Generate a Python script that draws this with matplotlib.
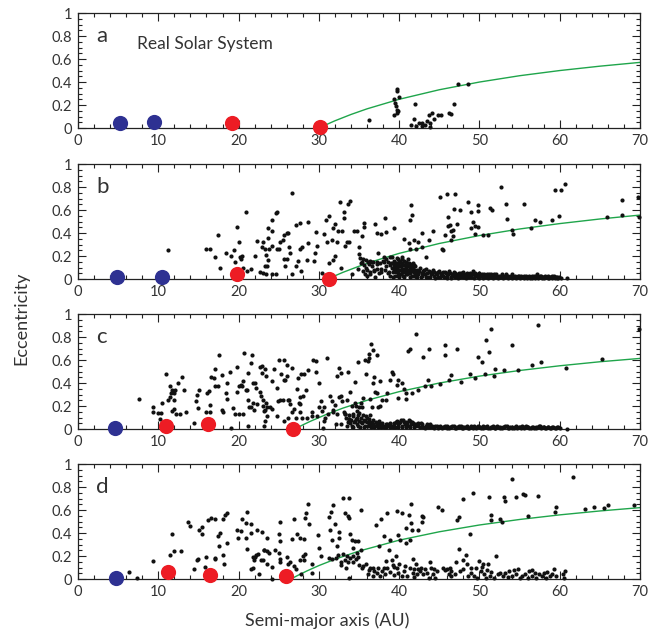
import numpy as np
import matplotlib
matplotlib.use("Agg")
import matplotlib.pyplot as plt
from matplotlib.ticker import MultipleLocator, FuncFormatter

plt.rcParams['font.family'] = ['Lato', 'DejaVu Sans']

# ---- data ----
panel_labels = ['a', 'b', 'c', 'd']

# planets (semi-major axis AU, eccentricity)
blue_a = [[5.2, 9.5], [4.9, 10.4], [4.6], [4.7]]
blue_e = [[0.045, 0.053], [0.015, 0.02], [0.006], [0.006]]
red_a = [[19.2, 30.1], [19.8, 31.3], [11.0, 16.2, 26.8], [11.2, 16.4, 25.9]]
red_e = [[0.044, 0.01], [0.047, 0.0], [0.027, 0.04, 0.0], [0.062, 0.035, 0.024]]

# green perihelion-limit curves
curve_a = [
    [30, 31, 32, 34, 36, 40, 45, 50, 55, 60, 65, 70],
    [31.1, 32, 33, 35, 37, 40, 45, 50, 55, 60, 65, 70],
    [27, 28, 29, 31, 33, 36, 40, 45, 50, 55, 60, 65, 70],
    [26.5, 27.5, 28.5, 30, 32, 35, 40, 45, 50, 55, 60, 65, 70],
]
curve_e = [
    [0, 0.032, 0.063, 0.118, 0.167, 0.25, 0.333, 0.40, 0.455, 0.50, 0.538, 0.571],
    [0, 0.028, 0.058, 0.111, 0.159, 0.223, 0.309, 0.378, 0.435, 0.482, 0.522, 0.556],
    [0, 0.036, 0.069, 0.129, 0.182, 0.25, 0.325, 0.40, 0.46, 0.509, 0.55, 0.585, 0.614],
    [0, 0.036, 0.07, 0.117, 0.172, 0.243, 0.338, 0.411, 0.47, 0.518, 0.558, 0.592, 0.621],
]

kbo_a_pts = [
    (36.2, 0.074), (39.7, 0.34), (39.75, 0.32), (40.0, 0.27), (39.3, 0.25), (39.5, 0.22),
    (39.6, 0.19), (39.7, 0.16), (39.8, 0.15), (39.3, 0.11), (39.7, 0.13), (42.0, 0.21),
    (41.9, 0.08), (41.5, 0.03), (42.1, 0.015), (42.5, 0.04), (42.9, 0.015), (43.2, 0.03),
    (43.5, 0.06), (43.8, 0.01), (43.7, 0.11), (44.1, 0.13), (44.3, 0.08), (44.8, 0.11),
    (45.2, 0.11), (46.2, 0.13), (46.5, 0.12), (46.8, 0.21), (47.3, 0.38), (48.6, 0.38),
    (42.8, 0.045), (43.9, 0.04),
]

kbo_b_pts = [
    (11.2, 0.25), (15.9, 0.26), (16.4, 0.26), (17.1, 0.19), (17.4, 0.38), (17.7, 0.10),
    (18.4, 0.23), (19.1, 0.20), (19.4, 0.25), (19.5, 0.15), (19.8, 0.45), (20.1, 0.32),
    (20.2, 0.19), (20.4, 0.20), (20.3, 0.17), (20.5, 0.10), (20.9, 0.58), (21.0, 0.07),
    (21.5, 0.085), (22.0, 0.20), (22.3, 0.33), (22.7, 0.065), (22.9, 0.28), (23.0, 0.32),
    (23.1, 0.056), (23.3, 0.26), (23.3, 0.115),
    (23.7, 0.36), (24.2, 0.51), (24.6, 0.57), (24.8, 0.58), (23.7, 0.44), (24.2, 0.42),
    (24.2, 0.29), (23.8, 0.26), (24.8, 0.26), (23.4, 0.21), (23.7, 0.165), (23.6, 0.115),
    (23.4, 0.04), (24.2, 0.04), (24.7, 0.04), (25.0, 0.26), (25.2, 0.32), (25.5, 0.34),
    (25.7, 0.38), (26.0, 0.40), (26.2, 0.40), (25.7, 0.17), (26.0, 0.17), (25.8, 0.11),
    (26.3, 0.28), (26.4, 0.23), (26.7, 0.75), (26.7, 0.04), (27.1, 0.11), (27.2, 0.47),
    (27.4, 0.16), (27.7, 0.49), (27.7, 0.26), (27.9, 0.28), (27.8, 0.07), (28.5, 0.165),
    (28.6, 0.50), (28.7, 0.31), (29.4, 0.16), (29.5, 0.23), (29.6, 0.41), (29.8, 0.29),
    (30.4, 0.056), (30.7, 0.39), (30.9, 0.51), (31.0, 0.32), (31.2, 0.14), (31.3, 0.55),
    (31.6, 0.34), (31.8, 0.44), (31.8, 0.165), (32.0, 0.48), (32.0, 0.20), (32.3, 0.32),
    (32.4, 0.42), (32.6, 0.67), (32.8, 0.10), (32.9, 0.42), (33.1, 0.53), (33.1, 0.58),
    (33.3, 0.29), (33.5, 0.32), (33.6, 0.65), (33.8, 0.32), (33.9, 0.68), (34.1, 0.04),
    (34.4, 0.42), (34.7, 0.42), (34.9, 0.085), (34.95, 0.28), (34.95, 0.22), (35.4, 0.37),
    (35.4, 0.145), (35.6, 0.49), (35.6, 0.45), (35.8, 0.04), (36.1, 0.145), (36.4, 0.04),
    (36.6, 0.145), (37.0, 0.48), (37.2, 0.40), (37.4, 0.23), (37.8, 0.395), (38.1, 0.19),
    (38.2, 0.53), (38.4, 0.41), (38.9, 0.19), (39.4, 0.445), (40.3, 0.19), (40.6, 0.345),
    (41.2, 0.31), (41.4, 0.26), (41.5, 0.64), (41.6, 0.56), (41.4, 0.51), (41.8, 0.34),
    (42.1, 0.26), (42.4, 0.32), (42.8, 0.40), (42.9, 0.28), (43.3, 0.19), (43.7, 0.34),
    (44.2, 0.415), (45.1, 0.71), (45.3, 0.26), (45.5, 0.25), (45.7, 0.38), (45.95, 0.74),
    (46.1, 0.54), (46.1, 0.46), (46.4, 0.42), (46.4, 0.34),
    (46.3, 0.47), (46.7, 0.425), (46.75, 0.37), (46.9, 0.74), (46.8, 0.61), (47.2, 0.48),
    (47.6, 0.60), (48.6, 0.67), (48.9, 0.58), (48.9, 0.44), (49.2, 0.50), (49.4, 0.46),
    (49.4, 0.39), (49.8, 0.455), (49.8, 0.64), (49.85, 0.59), (50.5, 0.38), (51.1, 0.38),
    (51.3, 0.62), (51.6, 0.60), (52.7, 0.80), (53.3, 0.65), (53.4, 0.52), (54.0, 0.43),
    (54.2, 0.395), (55.6, 0.65), (56.4, 0.44), (56.9, 0.51), (57.5, 0.50), (59.1, 0.51),
    (59.4, 0.77), (59.9, 0.55), (60.2, 0.77), (60.65, 0.83), (65.9, 0.54), (67.7, 0.69),
    (67.8, 0.56), (69.8, 0.71), (69.9, 0.54),
    # dense classical belt and low-e tail
    (35.2, 0.14), (35.6, 0.12), (35.9, 0.10), (36.3, 0.13), (36.6, 0.11), (36.9, 0.08),
    (37.2, 0.13), (37.5, 0.05), (37.8, 0.09), (38.1, 0.15), (38.4, 0.11), (38.7, 0.06),
    (38.6, 0.15), (38.9, 0.03), (36.0, 0.03), (37.0, 0.02),
    (35.1, 0.18), (35.5, 0.17), (35.9, 0.165), (36.4, 0.16), (36.8, 0.15), (37.2, 0.15),
    (37.6, 0.14), (38.0, 0.155), (38.4, 0.17), (38.8, 0.12),
    (35.5, 0.07), (36.0, 0.08), (36.4, 0.06), (36.9, 0.07), (37.3, 0.09), (37.7, 0.06),
    (38.2, 0.08), (38.6, 0.05),
    (39.0, 0.14), (39.1, 0.10), (39.2, 0.06), (39.3, 0.16), (39.4, 0.12), (39.5, 0.08),
    (39.5, 0.03), (39.6, 0.14), (39.7, 0.10), (39.8, 0.17), (39.8, 0.05), (39.9, 0.12),
    (40.0, 0.08), (40.0, 0.02), (40.1, 0.15), (40.2, 0.11), (40.3, 0.06), (40.4, 0.13),
    (40.5, 0.09), (40.5, 0.03), (40.6, 0.16), (40.7, 0.12), (40.8, 0.07), (40.9, 0.10),
    (41.0, 0.04), (41.0, 0.14), (41.1, 0.08), (41.2, 0.11), (41.3, 0.05), (41.4, 0.13),
    (41.5, 0.08), (41.6, 0.03), (41.7, 0.10), (41.8, 0.06), (41.9, 0.12), (42.0, 0.04),
    (39.1, 0.19), (39.2, 0.02), (39.3, 0.09), (39.4, 0.15), (39.5, 0.11), (39.6, 0.06),
    (39.7, 0.18), (39.8, 0.13), (39.9, 0.08), (39.9, 0.03), (40.0, 0.16), (40.1, 0.11),
    (40.2, 0.04), (40.3, 0.14), (40.3, 0.09), (40.4, 0.17), (40.5, 0.06), (40.6, 0.12),
    (40.6, 0.02), (40.7, 0.09), (40.8, 0.15), (40.8, 0.04), (40.9, 0.12), (41.0, 0.07),
    (41.1, 0.17), (41.2, 0.05), (41.2, 0.14), (41.3, 0.09), (41.4, 0.02), (41.5, 0.11),
    (41.6, 0.07), (41.7, 0.14), (41.8, 0.03), (41.9, 0.08), (42.0, 0.11), (42.1, 0.06),
    (42.2, 0.02),
    (42.2, 0.08), (42.4, 0.05), (42.6, 0.10), (42.8, 0.03), (43.0, 0.07), (43.2, 0.04),
    (43.4, 0.09), (43.6, 0.02), (43.8, 0.06), (44.0, 0.04), (44.2, 0.08), (44.4, 0.03),
    (44.6, 0.05), (44.8, 0.02), (45.0, 0.07), (45.2, 0.04), (45.4, 0.06), (45.6, 0.02),
    (45.8, 0.05), (46.0, 0.03), (46.2, 0.07), (46.4, 0.02), (46.6, 0.04), (46.8, 0.06),
    (47.0, 0.02), (47.2, 0.03), (47.4, 0.05), (47.6, 0.02), (47.8, 0.04), (48.0, 0.06),
    (48.2, 0.02), (48.4, 0.04), (48.6, 0.03), (48.8, 0.05), (49.0, 0.02), (49.2, 0.07),
    (49.4, 0.03), (49.6, 0.04), (49.8, 0.02), (50.0, 0.05), (50.2, 0.03), (50.4, 0.02),
    (50.6, 0.04), (50.8, 0.03), (51.0, 0.02), (51.2, 0.04), (51.4, 0.03), (51.6, 0.02),
    (51.8, 0.04), (52.0, 0.03), (52.2, 0.02), (52.4, 0.03), (52.6, 0.02), (52.8, 0.04),
    (53.0, 0.02), (53.2, 0.03), (53.4, 0.02), (53.6, 0.03), (53.8, 0.02), (54.0, 0.04),
    (54.2, 0.02), (54.4, 0.03), (54.6, 0.02), (54.8, 0.03), (55.0, 0.02), (55.2, 0.03),
    (55.4, 0.02), (55.6, 0.01), (55.8, 0.03), (56.0, 0.02), (56.2, 0.03), (56.4, 0.02),
    (56.6, 0.01), (56.8, 0.03), (57.0, 0.02), (57.2, 0.04), (57.4, 0.02), (57.6, 0.03),
    (57.8, 0.01), (58.0, 0.02), (58.2, 0.03), (58.4, 0.02), (58.6, 0.01), (58.8, 0.02),
    (59.0, 0.03), (59.2, 0.02), (59.4, 0.01), (59.6, 0.02), (59.8, 0.01), (60.9, 0.006),
    (42.3, 0.04), (42.5, 0.07), (42.7, 0.02), (42.9, 0.05), (43.1, 0.08), (43.3, 0.02),
    (43.5, 0.05), (43.7, 0.07), (43.9, 0.02), (44.1, 0.05), (44.3, 0.06), (44.5, 0.01),
    (44.7, 0.04), (44.9, 0.06), (45.1, 0.02), (45.3, 0.05), (45.5, 0.03), (45.7, 0.06),
    (45.9, 0.01), (46.1, 0.04), (46.3, 0.05), (46.5, 0.01), (46.7, 0.03), (46.9, 0.05),
    (47.1, 0.04), (47.3, 0.01), (47.5, 0.03), (47.7, 0.05), (47.9, 0.02), (48.1, 0.04),
    (48.3, 0.01), (48.5, 0.05), (48.7, 0.02), (48.9, 0.03), (49.1, 0.04), (49.3, 0.01),
    (49.5, 0.05), (49.7, 0.03), (49.9, 0.01), (50.1, 0.03), (50.3, 0.04), (50.5, 0.01),
    (50.7, 0.02), (50.9, 0.04), (51.1, 0.01), (51.3, 0.02), (51.5, 0.04), (51.7, 0.01),
    (51.9, 0.02), (52.1, 0.04), (52.3, 0.01), (52.5, 0.02), (52.7, 0.03), (52.9, 0.01),
    (53.1, 0.02), (53.3, 0.04), (53.5, 0.01), (53.7, 0.02), (53.9, 0.03), (54.1, 0.01),
    (54.3, 0.02), (54.5, 0.01), (54.7, 0.02), (54.9, 0.03), (55.1, 0.01), (55.3, 0.02),
    (55.5, 0.03), (55.7, 0.02), (55.9, 0.01), (56.1, 0.02), (56.3, 0.01), (56.5, 0.03),
    (56.7, 0.02), (56.9, 0.01), (57.1, 0.03), (57.3, 0.01), (57.5, 0.02), (57.7, 0.03),
    (57.9, 0.02), (58.1, 0.01), (58.3, 0.02), (58.5, 0.03), (58.7, 0.01), (58.9, 0.02),
    (59.1, 0.01), (59.3, 0.03), (59.5, 0.02), (59.7, 0.01), (59.9, 0.02), (60.1, 0.01),
]

kbo_c_pts = [
    (7.6, 0.26), (9.3, 0.15), (9.4, 0.19), (9.9, 0.135), (10.3, 0.135), (10.2, 0.085),
    (10.4, 0.23), (11.0, 0.48), (11.2, 0.25), (11.4, 0.28), (11.5, 0.37), (11.6, 0.31),
    (11.7, 0.34), (11.9, 0.25), (12.0, 0.31), (12.1, 0.34), (11.7, 0.16), (12.0, 0.17),
    (12.2, 0.13), (12.7, 0.13), (12.5, 0.40), (13.0, 0.45), (13.2, 0.34), (13.5, 0.15),
    (14.5, 0.056), (14.7, 0.24), (14.8, 0.30), (14.9, 0.18), (15.1, 0.34), (16.0, 0.145),
    (16.1, 0.31), (16.3, 0.33), (16.4, 0.21), (16.5, 0.145), (16.6, 0.45), (16.9, 0.44),
    (17.0, 0.52), (17.1, 0.37), (17.4, 0.37), (17.6, 0.64), (17.9, 0.47), (17.9, 0.165),
    (18.1, 0.145), (18.4, 0.31), (18.5, 0.40), (18.6, 0.26), (18.9, 0.50), (19.1, 0.01),
    (19.3, 0.18), (19.6, 0.13), (19.8, 0.32), (19.8, 0.54), (20.0, 0.13), (20.1, 0.37),
    (20.3, 0.38), (20.4, 0.37), (20.5, 0.13), (20.6, 0.42), (20.7, 0.66), (20.9, 0.34),
    (21.1, 0.34), (21.2, 0.25), (21.2, 0.49), (21.3, 0.19), (21.5, 0.57), (21.6, 0.19),
    (21.7, 0.64), (21.8, 0.40), (21.8, 0.23), (21.9, 0.165), (22.0, 0.40), (22.2, 0.36),
    (22.3, 0.22), (21.2, 0.027), (22.7, 0.54), (22.7, 0.32), (22.8, 0.29), (22.9, 0.49),
    (23.1, 0.20), (23.2, 0.027), (23.3, 0.165),
    (22.9, 0.55), (23.3, 0.52), (23.4, 0.46), (23.1, 0.25), (23.4, 0.23), (23.5, 0.19),
    (23.2, 0.16), (23.5, 0.115), (23.3, 0.07), (23.9, 0.19), (24.2, 0.17), (24.2, 0.42),
    (24.4, 0.525), (24.8, 0.36), (24.9, 0.24), (24.8, 0.115), (25.0, 0.60), (25.2, 0.25),
    (25.3, 0.475), (25.5, 0.25), (25.6, 0.60), (25.6, 0.07), (25.7, 0.43), (25.8, 0.425),
    (26.0, 0.56), (26.0, 0.46), (26.1, 0.25), (26.1, 0.10), (26.3, 0.25), (26.4, 0.22),
    (26.6, 0.145), (26.7, 0.53), (26.9, 0.17), (27.1, 0.10), (27.3, 0.35), (27.4, 0.445),
    (27.5, 0.23), (27.6, 0.28), (27.7, 0.22), (27.7, 0.15), (27.8, 0.48), (27.9, 0.10),
    (28.0, 0.29), (28.2, 0.475), (28.4, 0.34), (28.5, 0.10), (28.6, 0.51), (29.1, 0.15),
    (29.2, 0.115), (29.3, 0.60), (29.6, 0.59), (29.6, 0.50), (29.8, 0.115), (30.0, 0.40),
    (30.0, 0.19), (30.3, 0.24), (30.4, 0.16), (30.5, 0.01), (30.6, 0.07), (30.7, 0.19),
    (30.8, 0.10), (31.0, 0.62), (31.1, 0.13), (31.4, 0.29), (31.6, 0.24), (31.7, 0.165),
    (31.8, 0.145), (32.0, 0.21), (32.1, 0.04), (32.2, 0.46), (32.2, 0.13), (32.5, 0.28),
    (32.5, 0.53), (32.7, 0.29), (32.8, 0.49), (32.8, 0.047), (32.9, 0.24), (33.1, 0.145),
    (33.3, 0.13), (33.5, 0.25), (33.6, 0.50), (33.7, 0.085), (33.9, 0.32), (34.1, 0.20),
    (34.5, 0.23), (34.5, 0.41), (34.6, 0.20), (34.7, 0.16), (34.9, 0.58), (35.0, 0.19),
    (35.2, 0.23), (35.4, 0.19), (35.5, 0.27), (35.8, 0.60), (35.9, 0.48), (36.1, 0.59),
    (36.2, 0.62), (36.3, 0.65), (36.4, 0.26), (36.5, 0.74), (36.6, 0.19), (36.7, 0.40),
    (36.8, 0.69), (36.9, 0.45), (37.0, 0.32), (37.2, 0.31), (37.2, 0.64), (37.4, 0.19),
    (37.6, 0.415), (37.6, 0.20), (37.9, 0.25), (38.4, 0.25), (38.5, 0.31), (38.9, 0.425),
    (39.1, 0.50), (39.2, 0.48), (39.7, 0.38), (39.9, 0.425), (39.9, 0.27), (40.3, 0.40),
    (40.6, 0.35), (40.8, 0.26), (40.85, 0.31), (41.1, 0.675), (41.3, 0.70), (41.6, 0.31),
    (42.1, 0.83), (42.3, 0.34), (43.0, 0.63), (43.2, 0.37), (43.6, 0.43), (43.7, 0.70),
    (44.0, 0.37), (45.1, 0.39), (45.7, 0.735), (45.75, 0.645), (46.2, 0.425),
    (46.5, 0.47), (47.2, 0.70), (47.7, 0.41), (48.8, 0.48), (49.4, 0.44), (49.8, 0.63),
    (50.3, 0.58), (50.7, 0.48), (50.8, 0.77), (51.2, 0.67), (51.4, 0.87), (51.8, 0.46),
    (52.0, 0.52), (53.1, 0.51), (54.0, 0.73), (54.8, 0.51), (56.5, 0.56), (57.3, 0.905),
    (57.7, 0.58), (60.8, 0.53), (65.3, 0.61), (69.9, 0.87),
    # dense belt and low-e tail
    (33.4, 0.10), (33.6, 0.06), (33.8, 0.12), (34.0, 0.08), (34.1, 0.03), (34.3, 0.11),
    (34.4, 0.06), (34.6, 0.09), (34.7, 0.04), (34.9, 0.12), (35.0, 0.07), (35.1, 0.02),
    (35.3, 0.10), (35.4, 0.05), (35.6, 0.08), (35.7, 0.03), (35.9, 0.11), (36.0, 0.06),
    (36.2, 0.04), (36.3, 0.09), (36.5, 0.02), (36.6, 0.06), (36.8, 0.04), (37.0, 0.03),
    (37.2, 0.05), (37.4, 0.02), (37.6, 0.04), (37.8, 0.02), (38.0, 0.03), (38.3, 0.02),
    (38.5, 0.04), (38.8, 0.02), (39.0, 0.03), (39.3, 0.05), (39.5, 0.02), (39.7, 0.07),
    (39.9, 0.04), (40.1, 0.06), (40.3, 0.02), (40.5, 0.08), (40.7, 0.04), (40.9, 0.06),
    (41.1, 0.03), (41.3, 0.07), (41.5, 0.04), (41.7, 0.05), (41.9, 0.02), (42.1, 0.04),
    (42.4, 0.03), (42.7, 0.05), (43.0, 0.02), (43.3, 0.03), (43.6, 0.02), (43.9, 0.04),
    (44.2, 0.02), (44.5, 0.03), (44.8, 0.01), (45.1, 0.03), (45.4, 0.02), (45.7, 0.03),
    (46.0, 0.01), (46.3, 0.02), (46.6, 0.03), (46.9, 0.01), (47.2, 0.02), (47.5, 0.03),
    (47.8, 0.01), (48.1, 0.02), (48.4, 0.03), (48.7, 0.01), (49.0, 0.02), (49.3, 0.03),
    (49.6, 0.01), (49.9, 0.02), (50.2, 0.01), (50.5, 0.03), (50.8, 0.02), (51.1, 0.01),
    (51.4, 0.02), (51.7, 0.03), (52.0, 0.01), (52.3, 0.02), (52.6, 0.01), (52.9, 0.02),
    (53.2, 0.03), (53.5, 0.01), (53.8, 0.02), (54.1, 0.01), (54.4, 0.02), (54.7, 0.01),
    (55.0, 0.02), (55.3, 0.03), (55.6, 0.01), (55.9, 0.02), (56.2, 0.01), (56.5, 0.02),
    (56.8, 0.01), (57.1, 0.02), (57.4, 0.03), (57.7, 0.01), (58.0, 0.02), (58.3, 0.01),
    (58.6, 0.02), (58.9, 0.01), (59.2, 0.02), (59.5, 0.01), (59.8, 0.02), (60.9, 0.0),
    (33.2, 0.13), (33.5, 0.03), (33.7, 0.09), (33.9, 0.05), (34.2, 0.13), (34.3, 0.02),
    (34.5, 0.07), (34.8, 0.10), (34.9, 0.03), (35.0, 0.14), (35.2, 0.06), (35.5, 0.12),
    (35.6, 0.02), (35.8, 0.07), (36.0, 0.10), (36.1, 0.03), (36.3, 0.06), (36.4, 0.12),
    (36.6, 0.04), (36.8, 0.08), (36.9, 0.02), (37.1, 0.06), (37.3, 0.04), (37.5, 0.07),
    (37.7, 0.03), (37.9, 0.05), (38.1, 0.02), (38.4, 0.04), (38.7, 0.03), (38.9, 0.05),
    (39.2, 0.02), (39.4, 0.04), (39.6, 0.06), (39.8, 0.02), (40.0, 0.05), (40.2, 0.08),
    (40.4, 0.03), (40.6, 0.06), (40.8, 0.02), (41.0, 0.05), (41.2, 0.08), (41.4, 0.02),
    (41.6, 0.06), (41.8, 0.04), (42.0, 0.03), (42.3, 0.05), (42.6, 0.02), (42.9, 0.04),
    (43.2, 0.01), (43.5, 0.04), (43.8, 0.02), (44.1, 0.03), (44.4, 0.01), (44.7, 0.03),
    (45.0, 0.02), (45.3, 0.01), (45.6, 0.02), (45.9, 0.03), (46.2, 0.01), (46.5, 0.02),
    (46.8, 0.03), (47.1, 0.01), (47.4, 0.02), (47.7, 0.03), (48.0, 0.01), (48.3, 0.02),
    (48.6, 0.01), (48.9, 0.03), (49.2, 0.01), (49.5, 0.02), (49.8, 0.03), (50.1, 0.02),
    (50.4, 0.01), (50.7, 0.02), (51.0, 0.03), (51.3, 0.01), (51.6, 0.02), (51.9, 0.01),
    (52.2, 0.03), (52.5, 0.02), (52.8, 0.01), (53.1, 0.02), (53.4, 0.03), (53.7, 0.01),
    (54.0, 0.02), (54.3, 0.01), (54.6, 0.03), (54.9, 0.02), (55.2, 0.01), (55.5, 0.02),
    (55.8, 0.03), (56.1, 0.02), (56.4, 0.01), (56.7, 0.02), (57.0, 0.01), (57.3, 0.02),
    (57.6, 0.03), (57.9, 0.02), (58.2, 0.01), (58.5, 0.02), (58.8, 0.01), (59.1, 0.02),
    (59.4, 0.01), (59.7, 0.02), (60.0, 0.01),
]

kbo_d_pts = [
    (6.35, 0.065), (7.3, 0.012), (9.3, 0.16), (11.4, 0.21), (11.7, 0.39), (11.9, 0.24),
    (12.8, 0.24), (13.7, 0.50), (14.0, 0.46), (14.4, 0.09), (14.8, 0.165), (15.0, 0.17),
    (15.1, 0.425), (15.4, 0.39), (15.5, 0.45), (15.8, 0.105), (16.0, 0.195), (16.2, 0.51),
    (16.6, 0.53), (17.0, 0.52), (17.0, 0.18), (17.1, 0.17), (17.4, 0.37), (17.6, 0.29),
    (17.7, 0.40), (18.0, 0.52), (18.1, 0.21), (18.2, 0.13), (18.3, 0.56), (18.6, 0.57),
    (18.6, 0.31), (19.8, 0.43), (19.9, 0.36), (20.3, 0.42), (20.4, 0.52), (20.9, 0.49),
    (21.0, 0.58), (20.9, 0.36), (21.1, 0.26), (21.5, 0.40), (21.6, 0.48), (21.6, 0.085),
    (21.8, 0.19), (21.8, 0.10), (21.95, 0.165), (22.0, 0.19), (22.2, 0.21), (22.3, 0.43),
    (22.4, 0.22), (22.5, 0.047), (22.8, 0.165), (22.9, 0.41), (23.2, 0.25),
    (23.5, 0.36), (23.2, 0.25), (23.5, 0.24), (23.8, 0.23), (23.1, 0.165), (23.5, 0.13),
    (24.1, 0.105), (24.1, 0.003), (24.5, 0.25), (25.0, 0.39), (25.1, 0.50), (25.1, 0.33),
    (25.2, 0.17), (25.2, 0.15), (25.0, 0.23), (26.0, 0.19), (26.2, 0.135), (26.4, 0.145),
    (26.7, 0.35), (26.9, 0.115), (26.9, 0.52), (27.1, 0.085), (27.3, 0.39), (27.7, 0.36),
    (27.7, 0.165), (27.8, 0.047), (28.0, 0.20), (28.1, 0.35), (28.2, 0.165), (28.3, 0.22),
    (28.3, 0.53), (28.4, 0.57), (28.6, 0.65), (28.8, 0.48), (29.1, 0.13), (29.1, 0.056),
    (29.9, 0.38), (30.0, 0.27), (30.3, 0.20), (31.2, 0.18), (31.3, 0.54), (31.4, 0.425),
    (31.5, 0.58), (31.6, 0.34), (31.6, 0.17), (31.8, 0.64), (32.0, 0.48), (32.1, 0.18),
    (32.3, 0.29), (32.4, 0.21), (32.5, 0.41), (32.5, 0.36), (32.7, 0.145), (32.8, 0.125),
    (32.95, 0.22), (33.0, 0.705), (33.2, 0.57), (33.3, 0.165), (33.4, 0.095), (33.5, 0.20),
    (33.6, 0.55), (33.6, 0.145), (33.7, 0.705), (33.7, 0.53), (33.8, 0.012), (33.9, 0.395),
    (33.9, 0.18), (34.1, 0.34), (34.2, 0.27), (34.3, 0.20), (34.3, 0.15), (34.5, 0.335),
    (34.6, 0.17), (34.7, 0.23), (34.9, 0.335), (34.9, 0.19), (35.0, 0.125), (35.3, 0.60),
    (35.3, 0.25), (35.4, 0.10), (35.5, 0.115), (35.9, 0.135), (36.1, 0.04), (36.3, 0.077),
    (36.4, 0.10), (36.7, 0.027), (36.8, 0.095), (36.9, 0.07), (37.1, 0.47), (37.2, 0.056),
    (37.4, 0.10), (37.5, 0.29), (37.6, 0.027), (37.8, 0.52), (37.9, 0.07), (38.1, 0.10),
    (38.1, 0.37), (38.2, 0.04), (38.4, 0.16), (38.5, 0.57), (38.5, 0.10), (38.7, 0.25),
    (38.8, 0.34), (38.9, 0.065), (39.1, 0.165), (39.2, 0.125), (39.3, 0.035), (39.4, 0.105),
    (39.6, 0.20), (39.7, 0.59), (39.7, 0.095), (39.85, 0.38), (39.85, 0.056), (40.0, 0.13),
    (40.1, 0.34), (40.3, 0.027), (40.4, 0.57), (40.6, 0.07), (40.7, 0.115), (40.8, 0.44),
    (40.85, 0.31), (40.95, 0.027), (41.2, 0.56), (41.3, 0.095), (41.4, 0.34), (41.5, 0.49),
    (41.5, 0.65), (41.6, 0.425), (41.7, 0.175), (41.7, 0.056), (41.8, 0.018), (41.9, 0.09),
    (42.1, 0.13), (42.2, 0.04), (42.3, 0.43), (42.4, 0.085), (42.6, 0.07), (42.75, 0.10),
    (42.9, 0.50), (43.0, 0.54), (42.9, 0.545), (43.0, 0.04), (43.2, 0.085), (43.5, 0.056),
    (43.7, 0.012), (43.8, 0.145), (44.0, 0.10), (44.2, 0.047), (44.4, 0.085), (44.5, 0.012),
    (44.7, 0.07), (44.9, 0.625), (45.3, 0.60), (45.5, 0.10), (45.7, 0.077), (45.95, 0.085),
    (46.2, 0.047), (46.4, 0.07),
    (46.3, 0.10), (46.5, 0.027), (47.2, 0.51), (47.4, 0.54), (46.95, 0.047), (47.1, 0.145),
    (47.5, 0.26), (47.6, 0.07), (47.9, 0.165), (47.9, 0.70), (48.0, 0.085), (48.3, 0.21),
    (48.4, 0.13), (48.6, 0.027), (48.8, 0.39), (48.9, 0.10), (49.0, 0.056), (49.2, 0.75),
    (49.3, 0.027), (49.6, 0.10), (49.7, 0.012), (50.0, 0.153), (50.15, 0.07), (50.3, 0.105),
    (50.5, 0.13), (50.6, 0.04), (50.8, 0.012), (51.0, 0.077), (51.1, 0.135), (51.2, 0.71),
    (51.3, 0.027), (51.4, 0.56), (51.4, 0.51), (51.5, 0.065), (51.8, 0.012), (52.1, 0.20),
    (52.35, 0.04), (52.6, 0.056), (52.6, 0.52), (52.8, 0.50), (52.9, 0.027), (53.1, 0.71),
    (53.2, 0.675), (53.2, 0.056), (53.5, 0.018), (53.7, 0.07), (54.0, 0.87), (54.0, 0.027),
    (54.3, 0.077), (54.5, 0.71), (54.55, 0.04), (54.8, 0.085), (55.0, 0.012), (55.3, 0.027),
    (55.4, 0.74), (55.7, 0.735), (55.7, 0.04), (56.0, 0.012), (56.1, 0.55), (56.2, 0.07),
    (56.5, 0.077), (56.6, 0.027), (56.9, 0.056), (57.1, 0.012), (57.3, 0.725), (57.45, 0.04),
    (57.75, 0.027), (58.0, 0.056), (58.3, 0.012), (58.45, 0.065), (58.8, 0.027), (59.0, 0.04),
    (59.3, 0.085), (59.4, 0.58), (59.5, 0.63), (59.5, 0.027), (60.4, 0.047), (60.5, 0.006),
    (60.65, 0.07), (61.6, 0.89), (63.1, 0.61), (64.3, 0.625), (65.5, 0.62), (66.0, 0.64),
    (69.2, 0.645),
]

kbo_pts = [kbo_a_pts, kbo_b_pts, kbo_c_pts, kbo_d_pts]

# ---- figure ----
fig = plt.figure(figsize=(6.54, 6.37), dpi=100)

left, width, height = 0.1193, 0.8593, 0.1805
bottoms = [0.799, 0.562, 0.3265, 0.091]

blue = '#2e3192'
red = '#ed1c24'
green = '#1fa54b'


def y_fmt(v, pos):
    if abs(v) < 1e-9:
        return '0'
    if abs(v - 1) < 1e-9:
        return '1'
    return f'{v:.1f}'


for i in range(4):
    ax = fig.add_axes([left, bottoms[i], width, height])
    pts = np.array(kbo_pts[i])
    ax.scatter(pts[:, 0], pts[:, 1], s=9, color='#111111', linewidths=0,
               zorder=3, clip_on=False)
    ax.plot(curve_a[i], curve_e[i], color=green, lw=1.0, zorder=2)
    ax.scatter(blue_a[i], blue_e[i], s=120, color=blue, linewidths=0,
               zorder=4, clip_on=False)
    ax.scatter(red_a[i], red_e[i], s=120, color=red, linewidths=0,
               zorder=4, clip_on=False)

    ax.set_xlim(0, 70)
    ax.set_ylim(0, 1)
    ax.xaxis.set_major_locator(MultipleLocator(10))
    ax.xaxis.set_minor_locator(MultipleLocator(2))
    ax.yaxis.set_major_locator(MultipleLocator(0.2))
    ax.yaxis.set_minor_locator(MultipleLocator(0.05))
    ax.yaxis.set_major_formatter(FuncFormatter(y_fmt))
    ax.tick_params(which='both', direction='in', top=True, right=True,
                   labelsize=10.5, colors='#222222', labelcolor='#333333')
    ax.tick_params(which='major', length=6, width=0.8, pad=4)
    ax.tick_params(which='minor', length=3, width=0.8)
    for sp in ax.spines.values():
        sp.set_linewidth(0.9)
        sp.set_color('#222222')

    ax.text(2.3, 0.80, panel_labels[i], fontsize=16, color='#333333',
            ha='left', va='center')
    if i == 0:
        ax.text(7.4, 0.73, 'Real Solar System', fontsize=12.5, color='#333333',
                ha='left', va='center')

fig.text(0.032, 0.5, 'Eccentricity', rotation=90, fontsize=13,
         color='#333333', ha='center', va='center')
fig.text(0.5, 0.025, 'Semi-major axis (AU)', fontsize=13, color='#333333',
         ha='center', va='center')

fig.savefig('out.png', dpi=100)
